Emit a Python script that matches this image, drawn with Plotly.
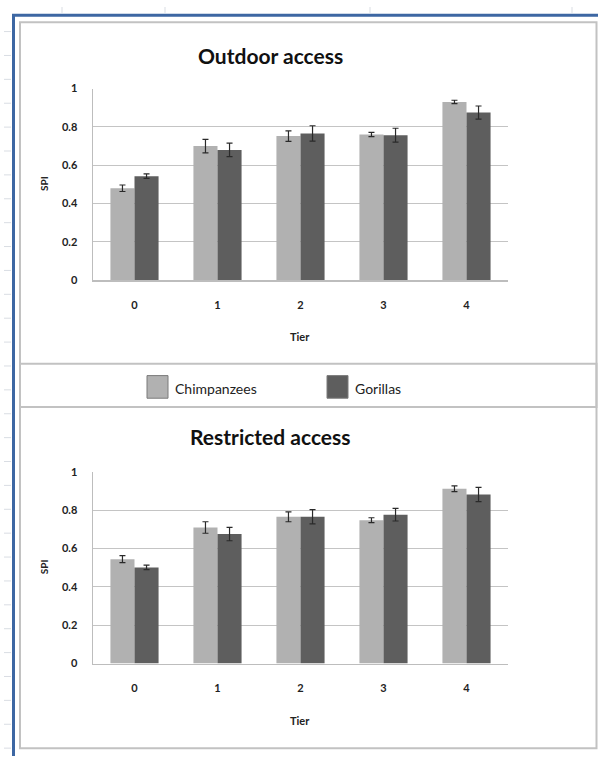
import plotly.graph_objects as go

# ---------------- data ----------------
tiers = ["0", "1", "2", "3", "4"]
series_names = ["Chimpanzees", "Gorillas"]
series_colors = ["#b1b1b1", "#5e5e5e"]

outdoor_chimp = [0.48, 0.70, 0.752, 0.760, 0.930]
outdoor_chimp_err = [0.017, 0.035, 0.027, 0.011, 0.009]
outdoor_gor = [0.543, 0.680, 0.766, 0.757, 0.875]
outdoor_gor_err = [0.012, 0.035, 0.040, 0.036, 0.034]

restricted_chimp = [0.545, 0.710, 0.766, 0.748, 0.912]
restricted_chimp_err = [0.018, 0.030, 0.026, 0.013, 0.015]
restricted_gor = [0.502, 0.676, 0.766, 0.777, 0.882]
restricted_gor_err = [0.012, 0.035, 0.037, 0.033, 0.037]

panel_titles = ["Outdoor access", "Restricted access"]
y_title = "SPI"
x_title = "Tier"

W, H = 598, 762
FONT = "Lato"


def px(x):
    return x / W


def py(y):
    return 1 - y / H


fig = go.Figure()

panels = [
    (outdoor_chimp, outdoor_chimp_err, outdoor_gor, outdoor_gor_err, "x", "y"),
    (restricted_chimp, restricted_chimp_err, restricted_gor, restricted_gor_err, "x2", "y2"),
]
for vc, ec, vg, eg, xa, ya in panels:
    for name, vals, errs, col in [
        (series_names[0], vc, ec, series_colors[0]),
        (series_names[1], vg, eg, series_colors[1]),
    ]:
        fig.add_trace(go.Bar(
            x=tiers, y=vals, name=name, xaxis=xa, yaxis=ya,
            marker=dict(color=col, line=dict(width=0)),
            error_y=dict(type="data", array=errs, visible=True,
                         color="#2a2a2a", thickness=1.2, width=3),
            showlegend=False,
        ))

axis_common_x = dict(
    type="category", range=[-0.5, 4.5], showgrid=False, zeroline=False,
    showline=True, linecolor="#bdbdbd", linewidth=1.5, ticks="",
    tickfont=dict(family=FONT, size=11, color="#222222", weight="bold"),
    ticklabelstandoff=14, fixedrange=True,
)
axis_common_y = dict(
    range=[0, 1], dtick=0.2, tick0=0, showgrid=True, gridcolor="#c4c4c4",
    gridwidth=1, zeroline=False, showline=True, linecolor="#bdbdbd",
    linewidth=1.5, ticks="",
    tickfont=dict(family=FONT, size=11, color="#222222", weight="bold"),
    ticklabelstandoff=12, fixedrange=True,
)

x_dom = [px(93), px(508)]
fig.update_layout(
    width=W, height=H,
    margin=dict(l=0, r=0, t=0, b=0),
    paper_bgcolor="white", plot_bgcolor="white",
    barmode="group", bargap=0.42, bargroupgap=0.0,
    showlegend=False,
    xaxis=dict(domain=x_dom, anchor="y", **axis_common_x),
    yaxis=dict(domain=[py(278), py(83)], anchor="x", **axis_common_y),
    xaxis2=dict(domain=x_dom, anchor="y2", **axis_common_x),
    yaxis2=dict(domain=[py(668), py(473)], anchor="x2", **axis_common_y),
)

shapes = []
annotations = []

# faint spreadsheet grid marks on the left edge
yy = 25.0
while yy < H:
    shapes.append(dict(type="line", xref="paper", yref="paper",
                       x0=px(4), x1=px(11), y0=py(yy), y1=py(yy),
                       line=dict(color="#d9dde3", width=1)))
    yy += 24.3
for xx in [62, 165, 370, 572]:
    shapes.append(dict(type="line", xref="paper", yref="paper",
                       x0=px(xx), x1=px(xx), y0=py(0), y1=py(6),
                       line=dict(color="#d9dde3", width=1)))

# outer blue frame (left + top)
shapes.append(dict(type="path", xref="paper", yref="paper",
                   path=f"M {px(13.5)},{py(H)} L {px(13.5)},{py(8.5)} L {px(W + 5)},{py(8.5)}",
                   line=dict(color="#3d67a3", width=3)))
# inner grey chart border
shapes.append(dict(type="rect", xref="paper", yref="paper",
                   x0=px(20), x1=px(596.5), y0=py(754), y1=py(15.5),
                   line=dict(color="#c2c2c2", width=2)))
# legend box
shapes.append(dict(type="rect", xref="paper", yref="paper",
                   x0=px(20), x1=px(596.5), y0=py(407), y1=py(363),
                   line=dict(color="#c2c2c2", width=2)))

# legend swatches + labels
leg = [(147, 168, 173), (327, 348, 353)]
for (s0, s1, tx), name, col in zip(leg, series_names, series_colors):
    shapes.append(dict(type="rect", xref="paper", yref="paper",
                       x0=px(s0), x1=px(s1), y0=py(398), y1=py(375),
                       fillcolor=col, line=dict(color="#7a7a7a", width=1)))
    annotations.append(dict(text=name, xref="paper", yref="paper",
                            x=px(tx), y=py(388), xanchor="left", yanchor="middle",
                            showarrow=False,
                            font=dict(family=FONT, size=14, color="#222222")))

# panel titles and axis titles
for title, ty, spi_y, tier_y in [(panel_titles[0], 49, 180, 335),
                                 (panel_titles[1], 437, 570, 726)]:
    annotations.append(dict(text=title, xref="paper", yref="paper",
                            x=px(270), y=py(ty), xanchor="center", yanchor="middle",
                            showarrow=False,
                            font=dict(family=FONT, size=21, color="#111111", weight="bold")))
    annotations.append(dict(text=y_title, xref="paper", yref="paper",
                            x=px(44), y=py(spi_y), xanchor="center", yanchor="middle",
                            textangle=-90, showarrow=False,
                            font=dict(family=FONT, size=10, color="#222222", weight="bold")))
    annotations.append(dict(text=x_title, xref="paper", yref="paper",
                            x=px(300), y=py(tier_y), xanchor="center", yanchor="middle",
                            showarrow=False,
                            font=dict(family=FONT, size=11, color="#222222", weight="bold")))

fig.update_layout(shapes=shapes, annotations=annotations)

fig.write_html(
    "out.html",
    config={"displayModeBar": False, "staticPlot": True},
    post_script="document.body.style.margin='0';document.body.style.overflow='hidden';",
)
